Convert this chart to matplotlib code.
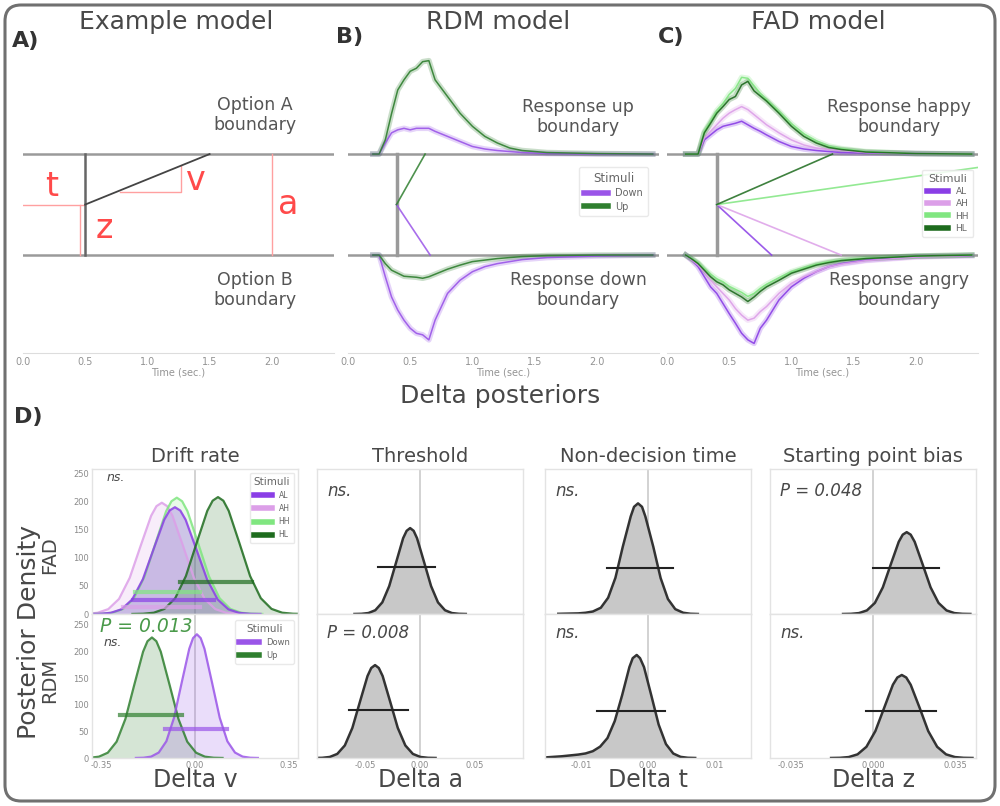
import matplotlib
matplotlib.use("Agg")
import matplotlib.pyplot as plt
from matplotlib.lines import Line2D
from matplotlib.patches import FancyBboxPatch
from matplotlib.ticker import FormatStrFormatter

W, H = 1000, 806

# ---------------- A) example model parameters ----------------
ex_t = 0.5
ex_z = 0.0
ex_v = 1.0
ex_a = 2.0

# ---------------- B) RDM model ----------------
rdm_t = 0.39
rdm_z = 0.0
rdm_labels = ["Down", "Up"]
rdm_drift = [-3.7, 4.35]
rt_b = [0.20, 0.25, 0.30, 0.35, 0.40, 0.45, 0.50, 0.55, 0.60, 0.65, 0.70,
        0.80, 0.90, 1.00, 1.10, 1.20, 1.30, 1.40, 1.60, 2.00, 2.45]
b_upper_down = [0, 0, .22, .42, .48, .51, .48, .51, .51, .51, .45, .35, .25, .15, .10, .07, .05, .03, .01, 0, 0]
b_upper_up = [0, 0, .28, .80, 1.27, 1.47, 1.64, 1.70, 1.83, 1.85, 1.47, 1.14, .81, .55, .35, .22, .12, .07, .03, .01, 0]
b_lower_down = [0, 0, .43, .83, 1.09, 1.29, 1.45, 1.55, 1.58, 1.68, 1.29, .76, .50, .33, .23, .17, .13, .09, .05, .02, 0]
b_lower_up = [0, 0, .17, .30, .36, .42, .43, .44, .46, .43, .38, .28, .20, .13, .10, .07, .05, .03, .01, 0, 0]

# ---------------- C) FAD model ----------------
fad_t = 0.40
fad_z = 0.0
fad_labels = ["AL", "AH", "HH", "HL"]
fad_drift = [-2.27, -1.0, 0.35, 1.075]
rt_c = [0.15, 0.20, 0.25, 0.30, 0.35, 0.40, 0.45, 0.50, 0.55, 0.60, 0.65, 0.70,
        0.75, 0.80, 0.90, 1.00, 1.10, 1.20, 1.30, 1.40, 1.60, 2.00, 2.45]
c_upper_al = [0, 0, 0, .28, .38, .48, .55, .58, .61, .65, .58, .51, .45, .38, .25, .15, .10, .07, .05, .03, .02, .01, 0]
c_upper_ah = [0, 0, 0, .32, .45, .58, .71, .81, .88, .94, .88, .78, .68, .58, .42, .28, .18, .12, .09, .07, .03, .01, 0]
c_upper_hh = [0, 0, 0, .45, .65, .86, 1.0, 1.18, 1.30, 1.52, 1.50, 1.35, 1.20, 1.08, .85, .60, .40, .26, .16, .11, .05, .01, 0]
c_upper_hl = [0, 0, 0, .42, .61, .81, .94, 1.08, 1.14, 1.37, 1.44, 1.25, 1.15, 1.05, .81, .55, .35, .22, .13, .09, .04, .01, 0]
c_lower_al = [0, .10, .23, .43, .63, .76, .96, 1.16, 1.35, 1.55, 1.68, 1.75, 1.45, 1.29, .89, .63, .46, .33, .23, .17, .10, .03, .01]
c_lower_ah = [0, .10, .20, .33, .50, .63, .76, .89, 1.06, 1.19, 1.29, 1.25, 1.12, 1.02, .76, .56, .43, .33, .23, .18, .11, .04, .01]
c_lower_hh = [0, .07, .15, .27, .38, .47, .53, .62, .68, .74, .82, .76, .66, .58, .45, .33, .25, .18, .13, .10, .06, .02, 0]
c_lower_hl = [0, .08, .17, .30, .43, .53, .59, .69, .76, .83, .92, .83, .72, .63, .50, .36, .28, .20, .15, .11, .07, .02, 0]

# ---------------- D) delta posteriors ----------------
# drift rate, FAD
dv_al_x = [-0.395, -0.355, -0.315, -0.275, -0.235, -0.195, -0.155, -0.115, -0.095, -0.075, -0.055, -0.035, 0.005, 0.045, 0.085, 0.125, 0.165, 0.205, 0.245]
dv_al_y = [0.1, 0.4, 2.1, 8.3, 25.7, 61.7, 115.2, 167.7, 184.1, 190, 184.1, 167.7, 115.2, 61.7, 25.7, 8.3, 2.1, 0.4, 0.1]
dv_ah_x = [-0.444, -0.404, -0.364, -0.324, -0.284, -0.244, -0.204, -0.164, -0.144, -0.124, -0.104, -0.084, -0.044, -0.004, 0.036, 0.076, 0.116, 0.156, 0.196]
dv_ah_y = [0.1, 0.4, 2.2, 8.7, 26.8, 64.3, 120.1, 174.7, 191.9, 198, 191.9, 174.7, 120.1, 64.3, 26.8, 8.7, 2.2, 0.4, 0.1]
dv_hh_x = [-0.388, -0.348, -0.308, -0.268, -0.228, -0.188, -0.148, -0.108, -0.088, -0.068, -0.048, -0.028, 0.012, 0.052, 0.092, 0.132, 0.172, 0.212, 0.252]
dv_hh_y = [0.1, 0.5, 2.3, 9.1, 28.0, 67.2, 125.5, 182.7, 200.6, 207, 200.6, 182.7, 125.5, 67.2, 28.0, 9.1, 2.3, 0.5, 0.1]
dv_hl_x = [-0.234, -0.194, -0.154, -0.114, -0.074, -0.034, 0.006, 0.046, 0.066, 0.086, 0.106, 0.126, 0.166, 0.206, 0.246, 0.286, 0.326, 0.366, 0.406]
dv_hl_y = [0.1, 0.5, 2.3, 9.1, 28.1, 67.5, 126.2, 183.6, 201.6, 208, 201.6, 183.6, 126.2, 67.5, 28.1, 9.1, 2.3, 0.5, 0.1]
dv_fad_lo = [-0.23, -0.27, -0.225, -0.056]
dv_fad_hi = [0.07, 0.02, 0.019, 0.213]
dv_fad_bar = [25, 12, 39, 57]
# drift rate, RDM
dv_down_x = [-0.221, -0.1925, -0.164, -0.1355, -0.107, -0.0785, -0.050, -0.0215, -0.0073, 0.007, 0.0213, 0.0355, 0.064, 0.0925, 0.121, 0.1495, 0.178, 0.2065, 0.235]
dv_down_y = [0.1, 0.5, 2.6, 10.2, 31.4, 75.3, 140.7, 204.7, 224.8, 232, 224.8, 204.7, 140.7, 75.3, 31.4, 10.2, 2.6, 0.5, 0.1]
dv_up_x = [-0.425, -0.392, -0.359, -0.326, -0.293, -0.260, -0.227, -0.194, -0.1775, -0.161, -0.1445, -0.128, -0.095, -0.062, -0.029, 0.004, 0.037, 0.070, 0.103]
dv_up_y = [0.1, 0.5, 2.5, 9.9, 30.6, 73.4, 137.1, 199.4, 219.0, 226, 219.0, 199.4, 137.1, 73.4, 30.6, 9.9, 2.5, 0.5, 0.1]
dv_rdm_lo = [-0.112, -0.281]
dv_rdm_hi = [0.12, -0.049]
dv_rdm_bar = [55, 80]

# threshold
thr_fad_x = [-0.0598, -0.0535, -0.0471, -0.0408, -0.0344, -0.0281, -0.0217, -0.0154, -0.0122, -0.0090, -0.0058, -0.0027, 0.0037, 0.0101, 0.0164, 0.0228, 0.0291, 0.0355, 0.0418]
thr_fad_y = [0.01, 0.07, 0.35, 1.38, 4.25, 10.2, 19.0, 27.7, 30.4, 31.4, 30.4, 27.7, 19.0, 10.2, 4.25, 1.38, 0.35, 0.07, 0.01]
thr_rdm_x = [-0.0962, -0.0893, -0.0824, -0.0755, -0.0686, -0.0617, -0.0548, -0.0479, -0.0445, -0.0410, -0.0376, -0.0341, -0.0272, -0.0203, -0.0134, -0.0065, 0.0004, 0.0073, 0.0142]
thr_rdm_y = [0.01, 0.06, 0.32, 1.27, 3.91, 9.38, 17.5, 25.5, 28.0, 28.9, 28.0, 25.5, 17.5, 9.38, 3.91, 1.27, 0.32, 0.06, 0.01]
# non-decision time
ndt_fad_x = [-0.0135, -0.0105, -0.0094, -0.0083, -0.0071, -0.0060, -0.0049, -0.0038, -0.0026, -0.0021, -0.0015, -0.0009, -0.0004, 0.0008, 0.0019, 0.0030, 0.0041, 0.0053, 0.0064, 0.0075]
ndt_fad_y = [0.3, 1.0, 2.0, 4.0, 10.0, 26.0, 58.0, 107.4, 156.2, 171.5, 177, 171.5, 156.2, 107.4, 57.5, 23.9, 7.8, 2.0, 0.4, 0.05]
ndt_rdm_x = [-0.0155, -0.0130, -0.0105, -0.0094, -0.0083, -0.0072, -0.0061, -0.0050, -0.0039, -0.0028, -0.0023, -0.0017, -0.0012, -0.0006, 0.0005, 0.0016, 0.0027, 0.0038, 0.0049, 0.0060, 0.0071]
ndt_rdm_y = [1.0, 3.0, 6.0, 8.0, 12.0, 20.0, 35.0, 65.0, 110.0, 159.7, 175.4, 181, 175.4, 159.7, 109.8, 58.8, 24.5, 7.9, 2.0, 0.4, 0.05]
# starting point bias
bias_fad_x = [-0.0128, -0.0094, -0.0060, -0.0026, 0.0008, 0.0042, 0.0076, 0.0110, 0.0127, 0.0144, 0.0161, 0.0178, 0.0212, 0.0246, 0.0280, 0.0314, 0.0348, 0.0382, 0.0416]
bias_fad_y = [0.02, 0.13, 0.65, 2.58, 7.94, 19.1, 35.6, 51.8, 56.9, 58.7, 56.9, 51.8, 35.6, 19.1, 7.94, 2.58, 0.65, 0.13, 0.02]
bias_rdm_x = [-0.0179, -0.0141, -0.0104, -0.0066, -0.0028, 0.0010, 0.0048, 0.0085, 0.0104, 0.0123, 0.0142, 0.0161, 0.0199, 0.0236, 0.0274, 0.0312, 0.0350, 0.0387, 0.0425]
bias_rdm_y = [0.02, 0.12, 0.59, 2.32, 7.14, 17.1, 32.0, 46.6, 51.2, 52.8, 51.2, 46.6, 32.0, 17.1, 7.14, 2.32, 0.59, 0.12, 0.02]
# HDI bars (lo, hi, height) for the gray panels, FAD row then RDM row
gray_fad_hdi = [(-0.038, 0.014, 17), (-0.0061, 0.0037, 74), (0.0, 0.028, 33)]
gray_rdm_hdi = [(-0.065, -0.011, 14.8), (-0.0076, 0.0025, 82), (-0.003, 0.0267, 30)]

fad_notes = ["ns.", "ns.", "ns.", "P = 0.048"]
rdm_notes = ["ns.", "P = 0.008", "ns.", "ns."]
param_titles = ["Drift rate", "Threshold", "Non-decision time", "Starting point bias"]
param_xlabels = ["Delta v", "Delta a", "Delta t", "Delta z"]

# colours
col_fad = {"AL": "#8a3ee6", "AH": "#dc9fe8", "HH": "#80e680", "HL": "#1d6b1d"}
col_rdm = {"Down": "#9a55e8", "Up": "#2f7f2f"}
GRID = "#e3e3e3"
TXT = "#484848"

fig = plt.figure(figsize=(W / 100, H / 100), dpi=100)


def rect(left, top, width, height):
    return [left / W, 1 - (top + height) / H, width / W, height / H]


def ftext(x, y, s, **kw):
    fig.text(x / W, 1 - y / H, s, **kw)


def drift_end(t0, z, v, bound, xmax):
    target = bound if v > 0 else -bound
    x_end = min(t0 + (target - z) / v, xmax)
    return x_end, z + v * (x_end - t0)


def setup_time_axis(ax):
    ax.set_xlim(0, 2.5)
    ax.set_ylim(-2.94, 3.16)
    for s in ["left", "right", "top"]:
        ax.spines[s].set_visible(False)
    ax.spines["bottom"].set_color("#dddddd")
    ax.set_yticks([])
    ax.set_xticks([0, 0.5, 1.0, 1.5, 2.0])
    ax.xaxis.set_major_formatter(FormatStrFormatter("%.1f"))
    ax.tick_params(axis="x", length=0, pad=3, labelsize=7, labelcolor="#939393")
    ax.set_xlabel("Time (sec.)", fontsize=7, color="#939393", labelpad=0)
    ax.axhline(1, color="#9a9a9a", lw=1.8, zorder=1)
    ax.axhline(-1, color="#9a9a9a", lw=1.8, zorder=1)
    ax.patch.set_alpha(0)


def draw_rt(ax, t, h, sign, color):
    y = [sign * (1 + v) for v in h]
    ax.plot(t, y, color=color, lw=4, alpha=0.25, zorder=2, solid_joinstyle="round")
    ax.plot(t, y, color=color, lw=1.1, alpha=0.9, zorder=3)


def small_legend(ax, labels, colors, fs, tfs, anchor, spacing=0.35):
    handles = [Line2D([0], [0], color=colors[l], lw=4) for l in labels]
    leg = ax.legend(handles, labels, title="Stimuli", loc="upper right", bbox_to_anchor=anchor,
                    fontsize=fs, title_fontsize=tfs, handlelength=2.4, labelspacing=spacing,
                    borderpad=0.5, framealpha=0.85, edgecolor="#e6e6e6", fancybox=True)
    for t in leg.get_texts():
        t.set_color("#666666")
    leg.get_title().set_color("#666666")
    return leg


# outer rounded frame
fig.add_artist(FancyBboxPatch((0.05, 0.05), 9.9, 7.96, boxstyle="round,pad=0,rounding_size=0.16",
                              transform=fig.dpi_scale_trans, fill=False, ec="#707070", lw=2.2))

# ---------------- A ----------------
axA = fig.add_axes(rect(23, 45, 311, 308))
setup_time_axis(axA)
half = ex_a / 2
axA.plot([ex_t, ex_t], [-half, half], color="#666666", lw=1.8, zorder=3)
xe, ye = drift_end(ex_t, ex_z, ex_v, half, 2.5)
axA.plot([ex_t, xe], [ex_z, ye], color="#444444", lw=1.3, zorder=3)
red_line = "#ffa0a0"
axA.plot([0, ex_t], [ex_z, ex_z], color=red_line, lw=1)
axA.plot([ex_t - 0.04, ex_t - 0.04], [-half, ex_z], color=red_line, lw=1)
v_x0, v_x1 = 0.78, 1.27
v_y0 = 0.25
axA.plot([v_x0, v_x1, v_x1], [v_y0, v_y0, ex_z + ex_v * (v_x1 - ex_t)], color=red_line, lw=1)
axA.plot([2.0, 2.0], [-half, half], color=red_line, lw=1)
red = "#ff4a4a"
ftext(52, 187, "t", fontsize=24, color=red, ha="center", va="center")
ftext(104, 228, "z", fontsize=24, color=red, ha="center", va="center")
ftext(196, 181, "v", fontsize=24, color=red, ha="center", va="center")
ftext(288, 204, "a", fontsize=24, color=red, ha="center", va="center")
ftext(255, 115, "Option A\nboundary", fontsize=12.5, color="#555555", ha="center", va="center", linespacing=1.15)
ftext(255, 290, "Option B\nboundary", fontsize=12.5, color="#555555", ha="center", va="center", linespacing=1.15)

# ---------------- B ----------------
axB = fig.add_axes(rect(348, 45, 311, 308))
setup_time_axis(axB)
draw_rt(axB, rt_b, b_upper_down, 1, col_rdm["Down"])
draw_rt(axB, rt_b, b_upper_up, 1, col_rdm["Up"])
draw_rt(axB, rt_b, b_lower_down, -1, col_rdm["Down"])
draw_rt(axB, rt_b, b_lower_up, -1, col_rdm["Up"])
axB.plot([rdm_t, rdm_t], [-1, 1], color="#9a9a9a", lw=2.5, zorder=4)
for lab, v in zip(rdm_labels, rdm_drift):
    xe, ye = drift_end(rdm_t, rdm_z, v, 1, 2.5)
    axB.plot([rdm_t, xe], [rdm_z, ye], color=col_rdm[lab], lw=1.2, alpha=0.85, zorder=4)
small_legend(axB, rdm_labels, col_rdm, 7, 8.5, (0.98, 0.62))
ftext(578, 117, "Response up\nboundary", fontsize=12.5, color="#555555", ha="center", va="center", linespacing=1.15)
ftext(578, 290, "Response down\nboundary", fontsize=12.5, color="#555555", ha="center", va="center", linespacing=1.15)

# ---------------- C ----------------
axC = fig.add_axes(rect(667, 45, 311, 308))
setup_time_axis(axC)
for lab, up, lo in zip(fad_labels, [c_upper_al, c_upper_ah, c_upper_hh, c_upper_hl],
                       [c_lower_al, c_lower_ah, c_lower_hh, c_lower_hl]):
    draw_rt(axC, rt_c, up, 1, col_fad[lab])
    draw_rt(axC, rt_c, lo, -1, col_fad[lab])
axC.plot([fad_t, fad_t], [-1, 1], color="#9a9a9a", lw=2.5, zorder=4)
for lab, v in zip(fad_labels, fad_drift):
    xe, ye = drift_end(fad_t, fad_z, v, 1, 2.5)
    axC.plot([fad_t, xe], [fad_z, ye], color=col_fad[lab], lw=1.2, alpha=0.85, zorder=4)
small_legend(axC, fad_labels, col_fad, 6.5, 8, (1.0, 0.61))
ftext(899, 117, "Response happy\nboundary", fontsize=12.5, color="#555555", ha="center", va="center", linespacing=1.15)
ftext(899, 290, "Response angry\nboundary", fontsize=12.5, color="#555555", ha="center", va="center", linespacing=1.15)

# titles & panel letters
ftext(176, 22, "Example model", fontsize=18, color=TXT, ha="center", va="center")
ftext(498, 22, "RDM model", fontsize=18, color=TXT, ha="center", va="center")
ftext(818, 22, "FAD model", fontsize=18, color=TXT, ha="center", va="center")
ftext(12, 41, "A)", fontsize=16, fontweight="bold", color="#333333", va="center")
ftext(336, 37, "B)", fontsize=16, fontweight="bold", color="#333333", va="center")
ftext(658, 37, "C)", fontsize=16, fontweight="bold", color="#333333", va="center")
ftext(500, 396, "Delta posteriors", fontsize=18, color=TXT, ha="center", va="center")
ftext(14, 417, "D)", fontsize=16, fontweight="bold", color="#333333", va="center")

# ---------------- D ----------------
col_left = [92, 317, 545, 770]
xlims = [0.385, 0.094, 0.0155, 0.044]
xticks = [[-0.35, 0, 0.35], [-0.05, 0, 0.05], [-0.01, 0, 0.01], [-0.035, 0, 0.035]]
xfmt = ["%.2f", "%.2f", "%.2f", "%.3f"]
ylims_fad = [258, 53, 232, 104]
ylims_rdm = [270, 44.8, 253, 91.6]

axes_fad, axes_rdm = [], []
for i, left in enumerate(col_left):
    a_top = fig.add_axes(rect(left, 469, 206, 145))
    a_bot = fig.add_axes(rect(left, 614, 206, 144))
    for ax, ymax, bottom in [(a_top, ylims_fad[i], False), (a_bot, ylims_rdm[i], True)]:
        ax.set_xlim(-xlims[i], xlims[i])
        ax.set_ylim(0, ymax)
        for s in ax.spines.values():
            s.set_color(GRID)
            s.set_linewidth(1)
        ax.axvline(0, color="#cfcfcf", lw=1.3, zorder=0)
        ax.set_xticks(xticks[i])
        ax.xaxis.set_major_formatter(FormatStrFormatter(xfmt[i]))
        if not bottom:
            ax.tick_params(labelbottom=False)
        if i == 0:
            ax.set_yticks([0, 50, 100, 150, 200, 250])
        else:
            ax.set_yticks([])
        ax.tick_params(length=0, pad=2, labelsize=6, labelcolor="#8a8a8a")
    axes_fad.append(a_top)
    axes_rdm.append(a_bot)
    ftext(left + 103, 456, param_titles[i], fontsize=14, color=TXT, ha="center", va="center")
    ftext(left + 103, 780, param_xlabels[i], fontsize=17, color=TXT, ha="center", va="center")

# drift rate FAD
ax = axes_fad[0]
for lab, xs, ys, fa in [("AH", dv_ah_x, dv_ah_y, 0.18), ("HH", dv_hh_x, dv_hh_y, 0.18),
                        ("AL", dv_al_x, dv_al_y, 0.28), ("HL", dv_hl_x, dv_hl_y, 0.18)]:
    ax.fill_between(xs, ys, color=col_fad[lab], alpha=fa, lw=0)
    ax.plot(xs, ys, color=col_fad[lab], lw=1.6, alpha=0.85)
for lab, lo, hi, yb in zip(fad_labels, dv_fad_lo, dv_fad_hi, dv_fad_bar):
    ax.plot([lo, hi], [yb, yb], color=col_fad[lab], lw=3, alpha=0.7)
small_legend(ax, fad_labels, col_fad, 5.5, 7.5, (1.0, 1.0), spacing=0.55)

# drift rate RDM
ax = axes_rdm[0]
for lab, xs, ys in [("Up", dv_up_x, dv_up_y), ("Down", dv_down_x, dv_down_y)]:
    ax.fill_between(xs, ys, color=col_rdm[lab], alpha=0.2, lw=0)
    ax.plot(xs, ys, color=col_rdm[lab], lw=1.6, alpha=0.85)
for lab, lo, hi, yb in zip(rdm_labels, dv_rdm_lo, dv_rdm_hi, dv_rdm_bar):
    ax.plot([lo, hi], [yb, yb], color=col_rdm[lab], lw=3, alpha=0.7)
small_legend(ax, rdm_labels, col_rdm, 6, 7.5, (1.0, 0.985), spacing=0.45)

# gray panels
gray_fad = [(thr_fad_x, thr_fad_y), (ndt_fad_x, ndt_fad_y), (bias_fad_x, bias_fad_y)]
gray_rdm = [(thr_rdm_x, thr_rdm_y), (ndt_rdm_x, ndt_rdm_y), (bias_rdm_x, bias_rdm_y)]
for j in range(3):
    for ax, (xs, ys), (lo, hi, yb) in [(axes_fad[j + 1], gray_fad[j], gray_fad_hdi[j]),
                                       (axes_rdm[j + 1], gray_rdm[j], gray_rdm_hdi[j])]:
        ax.fill_between(xs, ys, color="#c8c8c8", lw=0)
        ax.plot(xs, ys, color="#333333", lw=1.8)
        ax.plot([lo, hi], [yb, yb], color="#222222", lw=1.5)

# annotations
axes_fad[0].text(0.07, 0.94, fad_notes[0], transform=axes_fad[0].transAxes, fontsize=9,
                 style="italic", color=TXT, va="center")
axes_rdm[0].text(0.04, 0.915, "P = 0.013", transform=axes_rdm[0].transAxes, fontsize=13.5,
                 style="italic", color="#4a9a4a", va="center")
axes_rdm[0].text(0.055, 0.80, rdm_notes[0], transform=axes_rdm[0].transAxes, fontsize=9,
                 style="italic", color=TXT, va="center")
for j in range(1, 4):
    axes_fad[j].text(0.05, 0.85, fad_notes[j], transform=axes_fad[j].transAxes, fontsize=12,
                     style="italic", color=TXT, va="center")
    axes_rdm[j].text(0.05, 0.87, rdm_notes[j], transform=axes_rdm[j].transAxes, fontsize=12,
                     style="italic", color=TXT, va="center")

ftext(29, 632, "Posterior Density", fontsize=18, color=TXT, rotation=90, ha="center", va="center")
ftext(50, 555, "FAD", fontsize=14, color=TXT, rotation=90, ha="center", va="center")
ftext(50, 680, "RDM", fontsize=14, color=TXT, rotation=90, ha="center", va="center")

fig.savefig("out.png", dpi=100)
